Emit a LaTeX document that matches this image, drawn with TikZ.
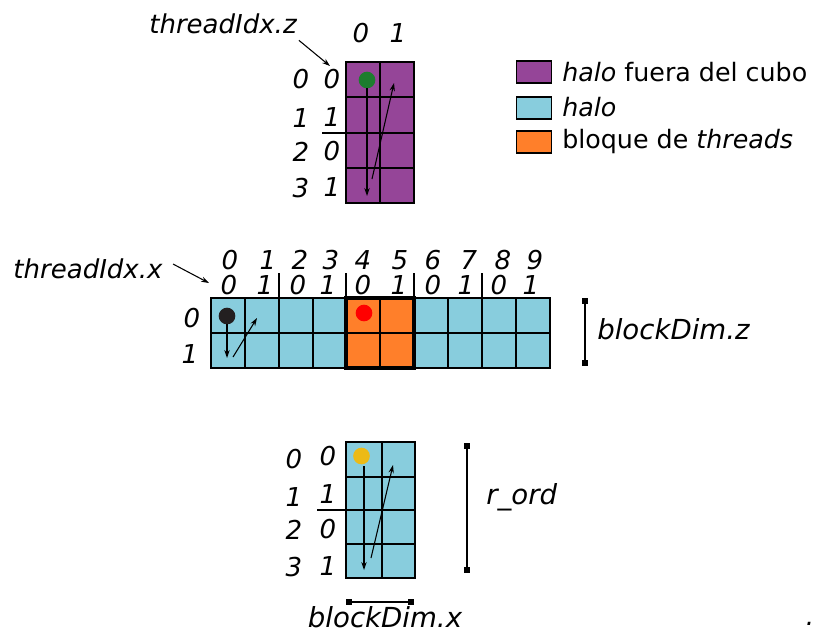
\documentclass[tikz,border=0pt]{standalone}
\usepackage{fontspec}
\setmainfont{DejaVu Sans}
\usetikzlibrary{arrows.meta}
\definecolor{purp}{RGB}{149,69,152}
\definecolor{cyanh}{RGB}{136,205,221}
\definecolor{orng}{RGB}{255,127,42}
\definecolor{dgreen}{RGB}{28,125,46}
\definecolor{ydot}{RGB}{236,186,22}
\definecolor{kdot}{RGB}{35,31,32}
\begin{document}
\begin{tikzpicture}[x=0.75pt,y=-0.75pt,
  lbl/.style={font=\fontsize{19.5}{19.5}\selectfont\itshape, inner sep=0pt, anchor=center},
  biglbl/.style={font=\fontsize{20.7}{20.7}\selectfont\itshape, inner sep=0pt},
  leg/.style={font=\fontsize{19}{19}\selectfont, inner sep=0pt, anchor=west},
  gridln/.style={line width=1.5pt},
  border/.style={line width=2pt},
  arr/.style={-{Stealth[length=6pt,width=4pt]}, line width=0.8pt},
  dimln/.style={line width=1.1pt, {Square[length=4.5pt,width=4.5pt]}-{Square[length=4.5pt,width=4.5pt]}},
  swatch/.style={draw=black, line width=0.9pt, minimum width=26pt, minimum height=16.5pt, inner sep=0pt},
  dotm/.style={circle, inner sep=0pt, minimum size=12.5pt},
]
\useasboundingbox (0,0) rectangle (816,633);

% ---------------- top grid (purple) ----------------
\fill[purp] (346,62) rectangle (414,203);
\draw[gridln] (380,62) -- (380,203);
\foreach \y in {97,132.5,168} \draw[gridln] (346,\y) -- (414,\y);
\draw[gridln] (322,132.5) -- (346,132.5);
\draw[border] (346,62) rectangle (414,203);

\node[lbl] (tz) at (223,24) {threadIdx.z};
\node[lbl] (tc0) at (361,33) {0};
\node[lbl] (tc1) at (398,33) {1};
\foreach \t/\y [count=\i] in {0/79,1/118,2/152,3/188}
  \node[lbl] (tra\i) at (301,\y) {\t};
\foreach \t/\y [count=\i] in {0/79,1/117,0/151,1/187}
  \node[lbl] (trb\i) at (332,\y) {\t};
\coordinate (tzend) at (330,66);
\draw[arr] (tz.south east) ++(2,6) -- (tzend);

\node[dotm, fill=dgreen] (gdot) at (367,80) {};
\coordinate (ta1) at (367,88);
\coordinate (ta2) at (367,196);
\coordinate (ta3) at (372,179);
\coordinate (ta4) at (394,83);
\draw[arr] (ta1) -- (ta2);
\draw[arr] (ta3) -- (ta4);

% ---------------- legend ----------------
\node[swatch, fill=purp, anchor=west] (s1) at (516,72) {};
\node[swatch, fill=cyanh, anchor=west] (s2) at (516,108) {};
\node[swatch, fill=orng, anchor=west] (s3) at (516,142) {};
\node[leg] (l1) at (562,72) {\textit{halo} fuera del cubo};
\node[leg] (l2) at (562,107) {\textit{halo}};
\node[leg] (l3) at (562,142) {bloque de \textit{threads}};

% ---------------- middle grid ----------------
\fill[cyanh] (211,298) rectangle (550,368);
\fill[orng] (346,298) rectangle (414,368);
\foreach \x in {245,279,313,380,448,482,516} \draw[gridln] (\x,298) -- (\x,368);
\draw[gridln] (211,333) -- (550,333);
\draw[border] (211,298) rectangle (550,368);
\draw[line width=2.5pt] (346,298) rectangle (414,368);
\foreach \x in {279,346,414,482} \draw[line width=1.3pt] (\x,273) -- (\x,298);

\foreach \t/\x in {0/230,1/268,2/300,3/331,4/363,5/400,6/433,7/469,8/503,9/535}
  \node[lbl] (mh\t) at (\x,260) {\t};
\foreach \t/\x [count=\i] in {0/229,1/265,0/298,1/328,0/363,1/399,0/433,1/466,0/499,1/531}
  \node[lbl] (mg\i) at (\x,285) {\t};
\node[lbl] (mr0) at (192,318) {0};
\node[lbl] (mr1) at (190,354) {1};

\node[lbl] (tx) at (88,269) {threadIdx.x};
\coordinate (txs) at (173,264);
\coordinate (txe) at (209,283);
\draw[arr] (txs) -- (txe);

\node[dotm, fill=kdot] (kd) at (227,316) {};
\node[dotm, fill=red] (rd) at (364,313) {};
\coordinate (ma1) at (227,324);
\coordinate (ma2) at (227,358);
\coordinate (ma3) at (233,357);
\coordinate (ma4) at (257,318);
\draw[arr] (ma1) -- (ma2);
\draw[arr] (ma3) -- (ma4);

\coordinate (bzt) at (585,298);
\coordinate (bzb) at (585,366);
\draw[dimln] (bzt) -- (bzb);
\node[biglbl, anchor=west] (bz) at (597,329) {blockDim.z};

% ---------------- bottom grid ----------------
\fill[cyanh] (346,442) rectangle (415,578);
\draw[gridln] (381.5,442) -- (381.5,578);
\foreach \y in {477,510,544} \draw[gridln] (346,\y) -- (415,\y);
\draw[gridln] (317,510) -- (346,510);
\draw[border] (346,442) rectangle (415,578);

\foreach \t/\y [count=\i] in {0/459,1/497,2/530,3/567}
  \node[lbl] (bra\i) at (294,\y) {\t};
\foreach \t/\y [count=\i] in {0/456,1/494,0/529,1/566}
  \node[lbl] (brb\i) at (328,\y) {\t};

\node[dotm, fill=ydot] (yd) at (361.5,456) {};
\coordinate (ba1) at (364,466);
\coordinate (ba2) at (364,570);
\coordinate (ba3) at (371,558);
\coordinate (ba4) at (393,465);
\draw[arr] (ba1) -- (ba2);
\draw[arr] (ba3) -- (ba4);

\coordinate (rot) at (467,443);
\coordinate (rob) at (467,573);
\draw[dimln] (rot) -- (rob);
\node[biglbl, anchor=west] (ro) at (486,497) {r\_ord};

\coordinate (bxl) at (346,602);
\coordinate (bxr) at (414,602);
\draw[dimln] (bxl) -- (bxr);
\node[biglbl] (bx) at (385,617) {blockDim.x};

\node[lbl] (pt) at (810,624) {.};
\end{tikzpicture}
\end{document}
